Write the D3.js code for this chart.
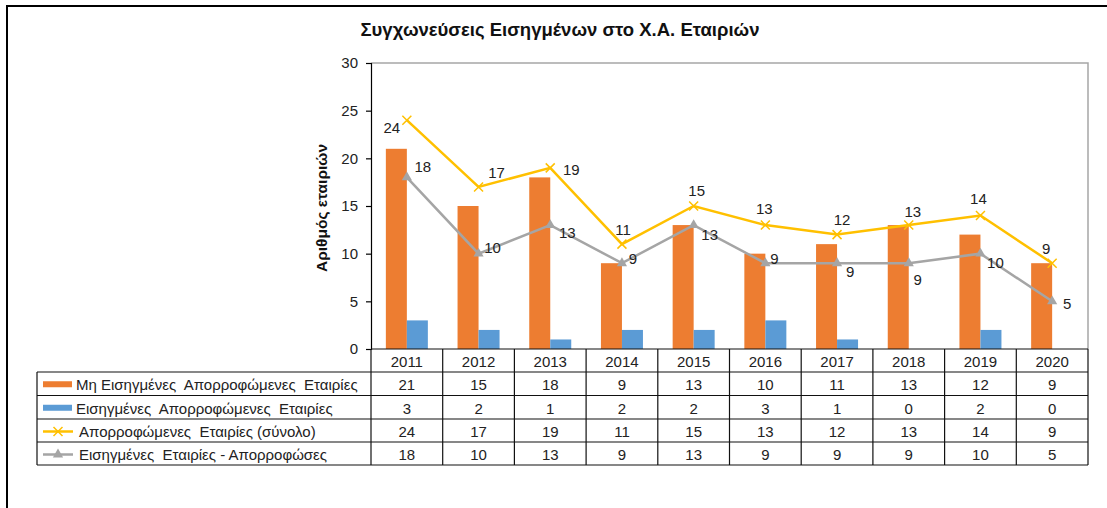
<!DOCTYPE html>
<html><head><meta charset="utf-8">
<script src="https://cdn.jsdelivr.net/npm/d3@7"></script>
<style>
body{margin:0;background:#fff;}
text{font-family:"Liberation Sans",Arial,sans-serif;}
</style></head>
<body>
<svg id="c" width="1107" height="508"></svg>
<script>
const years = ["2011","2012","2013","2014","2015","2016","2017","2018","2019","2020"];
const nonListed = [21,15,18,9,13,10,11,13,12,9];
const listed = [3,2,1,2,2,3,1,0,2,0];
const totalAbsorbed = [24,17,19,11,15,13,12,13,14,9];
const listedMergers = [18,10,13,9,13,9,9,9,10,5];
const yTicks = [0,5,10,15,20,25,30];
const seriesNames = [
  "Μη Εισηγμένες  Απορροφώμενες  Εταιρίες",
  "Εισηγμένες  Απορροφώμενες  Εταιρίες",
  "Απορροφώμενες  Εταιρίες (σύνολο)",
  "Εισηγμένες  Εταιρίες - Απορροφώσες"
];
const title = "Συγχωνεύσεις Εισηγμένων στο Χ.Α. Εταιριών";
const yTitle = "Αριθμός εταιριών";

// layout (label offsets in px, not data)
const totalLabelOff = [[-15,7],[18,-14],[21,2],[1,-15],[3,-16],[-1,-17],[5,-15],[4,-14],[-2,-17],[-6,-15]];
const mergerLabelOff = [[16,-11],[14,-6],[17,7],[11,-5],[16,9],[9,-5],[13,8],[9,16],[15,9],[15,2]];

const colors = {orange:"#ED7D31", blue:"#5B9BD5", yellow:"#FFC000", grey:"#A5A5A5"};
const FS = 15;
const svg = d3.select("#c");
const L = 371, R = 1088, T = 63, B = 349;

// outer frame
svg.append("path").attr("d","M7,509 L7,6 L1110,6").attr("fill","none").attr("stroke","#000").attr("stroke-width",2);

// title
svg.append("text").attr("x",560).attr("y",36).attr("text-anchor","middle")
  .attr("font-size",18.5).attr("font-weight","bold").attr("fill","#111").text(title);

const x = d3.scaleBand().domain(years).range([L,R]).padding(0);
const x1 = d3.scaleBand().domain([0,1]).range([0,42]);
const y = d3.scaleLinear().domain([0,30]).range([B,T]);

// plot border (grey)
svg.append("path").attr("d",`M${L},${T}H${R}V${B}`).attr("fill","none").attr("stroke","#a6a6a6").attr("stroke-width",1.5);

// bars
const off = (x.bandwidth()-42)/2;
const g = svg.append("g");
g.selectAll(".b1").data(years).join("rect")
  .attr("x",d=>x(d)+off+x1(0)).attr("width",x1.bandwidth())
  .attr("y",(d,i)=>y(nonListed[i])).attr("height",(d,i)=>B-y(nonListed[i]))
  .attr("fill",colors.orange);
g.selectAll(".b2").data(years).join("rect")
  .attr("x",d=>x(d)+off+x1(1)).attr("width",x1.bandwidth())
  .attr("y",(d,i)=>y(listed[i])).attr("height",(d,i)=>B-y(listed[i]))
  .attr("fill",colors.blue);

const cx = d=>x(d)+x.bandwidth()/2;
const line = d3.line().x(d=>cx(d[0])).y(d=>y(d[1]));

// grey line
const greyPts = years.map((d,i)=>[d,listedMergers[i]]);
svg.append("path").attr("d",line(greyPts)).attr("fill","none").attr("stroke",colors.grey).attr("stroke-width",2.5);
const tri = d3.symbol().type(d3.symbolTriangle).size(45);
svg.selectAll(".tri").data(greyPts).join("path")
  .attr("d",tri).attr("transform",d=>`translate(${cx(d[0])},${y(d[1])})`).attr("fill",colors.grey);

// yellow line
const yelPts = years.map((d,i)=>[d,totalAbsorbed[i]]);
svg.append("path").attr("d",line(yelPts)).attr("fill","none").attr("stroke",colors.yellow).attr("stroke-width",2.5);
svg.selectAll(".xm").data(yelPts).join("path")
  .attr("d","M-4.5,-4.5L4.5,4.5M-4.5,4.5L4.5,-4.5")
  .attr("transform",d=>`translate(${cx(d[0])},${y(d[1])})`)
  .attr("stroke",colors.yellow).attr("stroke-width",1.5).attr("fill","none");

// data labels
svg.selectAll(".tl").data(yelPts).join("text")
  .attr("x",(d,i)=>cx(d[0])+totalLabelOff[i][0]).attr("y",(d,i)=>y(d[1])+totalLabelOff[i][1])
  .attr("text-anchor","middle").attr("dominant-baseline","central").attr("font-size",FS).attr("fill","#222")
  .text(d=>d[1]);
svg.selectAll(".ml").data(greyPts).join("text")
  .attr("x",(d,i)=>cx(d[0])+mergerLabelOff[i][0]).attr("y",(d,i)=>y(d[1])+mergerLabelOff[i][1])
  .attr("text-anchor","middle").attr("dominant-baseline","central").attr("font-size",FS).attr("fill","#222")
  .text(d=>d[1]);

// y axis
const ya = svg.append("g").attr("transform",`translate(${L},0)`)
  .call(d3.axisLeft(y).tickValues(yTicks).tickSize(5).tickPadding(8));
ya.select(".domain").attr("stroke","#000").attr("stroke-width",1.2);
ya.selectAll(".tick line").attr("stroke","#000").attr("stroke-width",1.2);
ya.selectAll("text").attr("font-size",FS).attr("fill","#222").attr("font-family","Liberation Sans, Arial, sans-serif");

svg.append("text").attr("transform",`translate(321,208) rotate(-90)`).attr("text-anchor","middle")
  .attr("dominant-baseline","central").attr("font-size",15.5).attr("font-weight","bold").attr("fill","#111").text(yTitle);

// data table
const rowY = [B, 372, 395.5, 419, 442, 465];
const tl = svg.append("g").attr("stroke","#111").attr("stroke-width",1.2);
tl.append("line").attr("x1",L).attr("x2",R).attr("y1",B).attr("y2",B);
for(let r=1;r<rowY.length;r++){
  tl.append("line").attr("x1",37).attr("x2",R).attr("y1",rowY[r]).attr("y2",rowY[r]);
}
years.forEach(d=>{
  tl.append("line").attr("x1",x(d)).attr("x2",x(d)).attr("y1",B).attr("y2",465);
});
tl.append("line").attr("x1",R).attr("x2",R).attr("y1",B).attr("y2",465);
tl.append("line").attr("x1",37).attr("x2",37).attr("y1",372).attr("y2",465);

// header
svg.selectAll(".yr").data(years).join("text")
  .attr("x",d=>cx(d)).attr("y",(rowY[0]+rowY[1])/2+1).attr("text-anchor","middle")
  .attr("dominant-baseline","central").attr("font-size",FS).attr("fill","#222").text(d=>d);

const rows = [nonListed, listed, totalAbsorbed, listedMergers];
rows.forEach((vals,r)=>{
  const ym = (rowY[r+1]+rowY[r+2])/2+1;
  svg.selectAll(".r"+r).data(years).join("text")
    .attr("x",d=>cx(d)).attr("y",ym).attr("text-anchor","middle")
    .attr("dominant-baseline","central").attr("font-size",FS).attr("fill","#222").text((d,i)=>vals[i]);
  if(r<2){
    svg.append("rect").attr("x",43).attr("y",ym-3.5).attr("width",29).attr("height",6)
      .attr("fill",r===0?colors.orange:colors.blue);
  } else {
    const c = r===2?colors.yellow:colors.grey;
    svg.append("line").attr("x1",43).attr("x2",73).attr("y1",ym).attr("y2",ym).attr("stroke",c).attr("stroke-width",2.5);
    if(r===2){
      svg.append("path").attr("d","M-4.5,-4.5L4.5,4.5M-4.5,4.5L4.5,-4.5").attr("transform",`translate(58,${ym})`)
        .attr("stroke",c).attr("stroke-width",1.5);
    } else {
      svg.append("path").attr("d",tri).attr("transform",`translate(58,${ym})`).attr("fill",c);
    }
  }
  svg.append("text").attr("x",r<2?76:79).attr("y",ym).attr("dominant-baseline","central")
    .attr("font-size",FS).attr("fill","#222").attr("xml:space","preserve").style("white-space","pre")
    .text(seriesNames[r]);
});
</script>
</body></html>
